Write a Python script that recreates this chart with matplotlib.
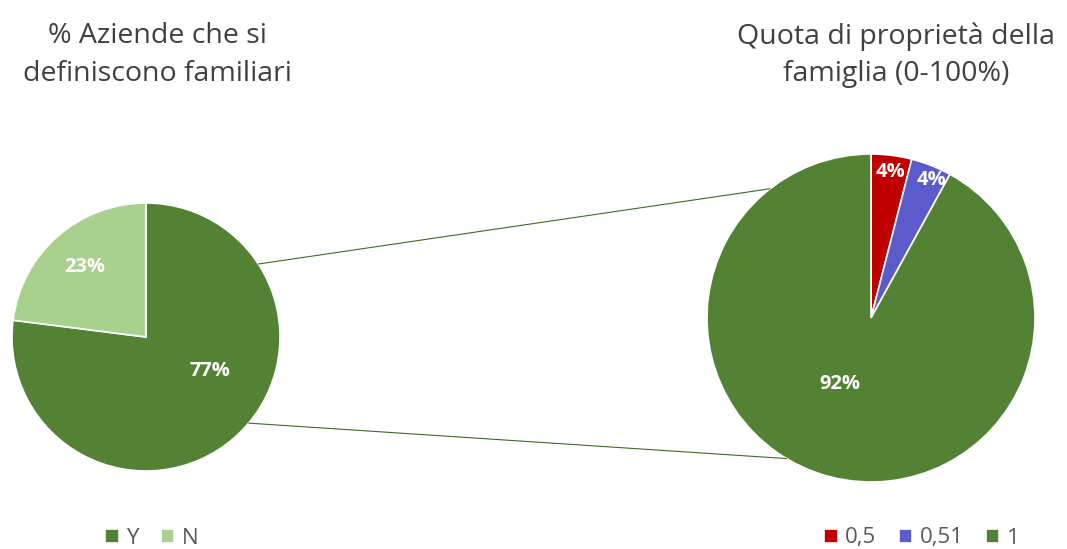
import matplotlib
matplotlib.use("Agg")
import matplotlib.pyplot as plt
from matplotlib.patches import ConnectionPatch
import numpy as np

plt.rcParams["font.family"] = ["Open Sans", "DejaVu Sans"]

# Data
left_labels = ["Y", "N"]
left_values = [77, 23]
right_labels = ["0,5", "0,51", "1"]
right_values = [1, 1, 23]

left_colors = ["#548235", "#A9D18E"]
right_colors = ["#C00000", "#5B5BCC", "#548235"]
TEXT = "#404040"

W, H = 1067, 549
fig = plt.figure(figsize=(W / 100, H / 100), dpi=100)


def px_axes(cx, cy, r):
    return fig.add_axes([(cx - r) / W, (H - cy - r) / H, 2 * r / W, 2 * r / H])


def draw_pie(ax, values, colors, label_pos):
    wedges, _, pcts = ax.pie(values, colors=colors, startangle=90, counterclock=False,
                             autopct="%1.0f%%", radius=1,
                             wedgeprops=dict(edgecolor="white", linewidth=1.2),
                             textprops=dict(color="white", fontsize=14.5, fontweight="bold"))
    for t, pos in zip(pcts, label_pos):
        t.set_position(pos)
    ax.set_xlim(-1, 1)
    ax.set_ylim(-1, 1)
    ax.set_aspect("equal")
    ax.axis("off")
    return wedges


ax1 = px_axes(146, 337, 134)
w1 = draw_pie(ax1, left_values, left_colors, [(0.48, -0.25), (-0.46, 0.52)])

ax2 = px_axes(871, 318, 164)
w2 = draw_pie(ax2, right_values, right_colors, [(0.12, 0.89), (0.37, 0.84), (-0.19, -0.40)])

# connector lines between the two pies
for a1, a2 in [(33, 128), (-40, -121)]:
    p1 = (np.cos(np.radians(a1)), np.sin(np.radians(a1)))
    p2 = (np.cos(np.radians(a2)), np.sin(np.radians(a2)))
    con = ConnectionPatch(xyA=p1, coordsA=ax1.transData, xyB=p2, coordsB=ax2.transData,
                          color="#3f6b22", linewidth=0.8)
    fig.add_artist(con)

# titles
fig.text(157 / W, 1 - 55 / H, "% Aziende che si\ndefiniscono familiari", ha="center", va="center",
         fontsize=20.5, color=TEXT, linespacing=1.45)
fig.text(896 / W, 1 - 55 / H, "Quota di proprietà della\nfamiglia (0-100%)", ha="center", va="center",
         fontsize=20.5, color=TEXT, linespacing=1.45)

# legends
fig.legend(w1, left_labels, loc="center", bbox_to_anchor=(152 / W, 1 - 538 / H), ncol=2,
           frameon=False, handlelength=0.6, handleheight=0.6, handletextpad=0.35,
           columnspacing=1.0, fontsize=16, labelcolor="#595959")
fig.legend(w2, right_labels, loc="center", bbox_to_anchor=(922 / W, 1 - 538 / H), ncol=3,
           frameon=False, handlelength=0.6, handleheight=0.6, handletextpad=0.35,
           columnspacing=1.0, fontsize=16, labelcolor="#595959")

plt.savefig("out.png", dpi=100)
plt.close()
